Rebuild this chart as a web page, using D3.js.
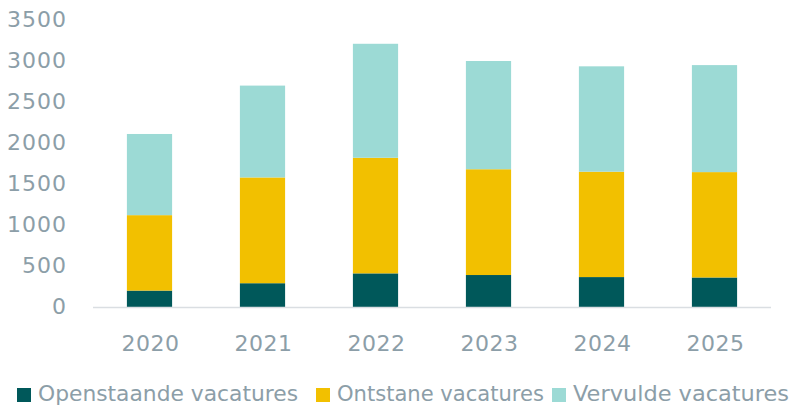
<!DOCTYPE html>
<html>
<head>
<meta charset="utf-8">
<script src="https://d3js.org/d3.v7.min.js"></script>
<style>
  body { margin: 0; background: #fff; }
  svg { display: block; font-family: "DejaVu Sans", sans-serif; }
</style>
</head>
<body>
<svg id="chart" width="792" height="405"></svg>
<script>
// data
const years = ["2020", "2021", "2022", "2023", "2024", "2025"];
const openstaande = [200, 290, 410, 390, 365, 360];
const ontstane = [920, 1290, 1410, 1290, 1285, 1285];
const vervulde = [990, 1120, 1390, 1320, 1285, 1305];
const seriesNames = ["Openstaande vacatures", "Ontstane vacatures", "Vervulde vacatures"];
const yTicks = [0, 500, 1000, 1500, 2000, 2500, 3000, 3500];

const colors = ["#00585a", "#f2c000", "#9cdad5"];
const textColor = "#8c9ea8";

const svg = d3.select("#chart");
const mgLeft = 93, mgRight = 771, mgTop = 20, mgBottom = 307;

const rows = years.map(function(y, i) {
    return { year: y, a: openstaande[i], b: ontstane[i], c: vervulde[i] };
});
const stack = d3.stack().keys(["a", "b", "c"])(rows);

const x = d3.scaleBand().domain(years).range([mgLeft, mgRight]).paddingInner(0.6).paddingOuter(0.3);
const y = d3.scaleLinear().domain([0, 3500]).range([mgBottom, mgTop]);

// bars
svg.append("g")
    .selectAll("g")
    .data(stack)
    .enter()
    .append("g")
    .attr("fill", function(d, i) { return colors[i]; })
    .selectAll("rect")
    .data(function(d) { return d; })
    .enter()
    .append("rect")
    .attr("x", function(d) { return x(d.data.year); })
    .attr("y", function(d) { return y(d[1]); })
    .attr("width", x.bandwidth())
    .attr("height", function(d) { return y(d[0]) - y(d[1]); });

// x axis line
svg.append("line")
    .attr("x1", mgLeft).attr("x2", mgRight)
    .attr("y1", y(0) + 0.5).attr("y2", y(0) + 0.5)
    .attr("stroke", "#dadee2")
    .attr("stroke-width", 1.5);

// y tick labels
svg.append("g")
    .selectAll("text")
    .data(yTicks)
    .enter()
    .append("text")
    .attr("x", 67)
    .attr("y", function(d) { return y(d) + 6.5; })
    .attr("text-anchor", "end")
    .attr("fill", textColor)
    .style("font-size", "22px")
    .style("letter-spacing", "1px")
    .text(function(d) { return d; });

// x labels
svg.append("g")
    .selectAll("text")
    .data(years)
    .enter()
    .append("text")
    .attr("x", function(d) { return x(d) + x.bandwidth() / 2 + 1; })
    .attr("y", 350.5)
    .attr("text-anchor", "middle")
    .attr("fill", textColor)
    .style("font-size", "22px")
    .style("letter-spacing", "0.5px")
    .text(function(d) { return d; });

// legend
const legendX = [17, 316, 552];
const legendW = [260, 207, 216];
const lg = svg.append("g");
seriesNames.forEach(function(name, i) {
    lg.append("rect")
        .attr("x", legendX[i]).attr("y", 388)
        .attr("width", 14).attr("height", 14)
        .attr("fill", colors[i]);
    lg.append("text")
        .attr("x", legendX[i] + 21)
        .attr("y", 401)
        .attr("fill", textColor)
        .attr("textLength", legendW[i])
        .attr("lengthAdjust", "spacingAndGlyphs")
        .style("font-size", "21px")
        .text(name);
});
</script>
</body>
</html>
